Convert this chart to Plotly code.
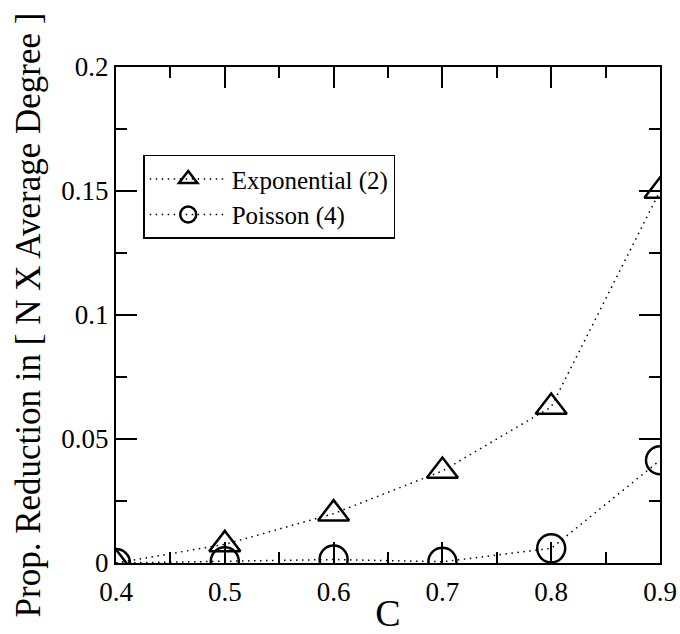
import plotly.graph_objects as go

c_values = [0.4, 0.5, 0.6, 0.7, 0.8, 0.9]
exponential = [0.0, 0.0075, 0.0199, 0.0371, 0.0629, 0.150]
poisson = [0.0, 0.0007, 0.0014, 0.0005, 0.0059, 0.0414]

x_ticks = [0.4, 0.5, 0.6, 0.7, 0.8, 0.9]
x_tick_labels = ["0.4", "0.5", "0.6", "0.7", "0.8", "0.9"]
y_ticks = [0, 0.05, 0.1, 0.15, 0.2]
y_tick_labels = ["0", "0.05", "0.1", "0.15", "0.2"]

FONT = "Liberation Serif"

fig = go.Figure()
fig.add_trace(go.Scatter(
    x=c_values, y=exponential, mode="lines+markers", name="Exponential (2)",
    line=dict(color="black", width=1.5, dash="1.5px,4.5px"),
    marker=dict(symbol="triangle-up-open", size=27, color="black",
                line=dict(width=2.5, color="black")),
))
fig.add_trace(go.Scatter(
    x=c_values, y=poisson, mode="lines+markers", name="Poisson (4)",
    line=dict(color="black", width=1.5, dash="1.5px,4.5px"),
    marker=dict(symbol="circle-open", size=28, color="black",
                line=dict(width=2.5, color="black")),
))

axis_common = dict(
    showline=True, linecolor="black", linewidth=2, mirror="allticks",
    ticks="inside", ticklen=21, tickwidth=1.5, tickcolor="black",
    showgrid=False, zeroline=False, automargin=False,
    tickfont=dict(family=FONT, size=27, color="black"),
)

fig.update_xaxes(
    range=[0.4, 0.9], tickvals=x_ticks, ticktext=x_tick_labels,
    minor=dict(dtick=0.05, ticks="inside", ticklen=11, tickwidth=1.5, tickcolor="black"),
    ticklabelstandoff=4,
    title=dict(text="C", font=dict(family=FONT, size=38, color="black"), standoff=20),
    **axis_common,
)
fig.update_yaxes(
    range=[0, 0.2], tickvals=y_ticks, ticktext=y_tick_labels,
    minor=dict(dtick=0.025, ticks="inside", ticklen=11, tickwidth=1.5, tickcolor="black"),
    title=dict(text="Prop. Reduction in [ N X Average Degree ]",
               font=dict(family=FONT, size=35, color="black"), standoff=10),
    **axis_common,
)

fig.update_layout(
    width=680, height=634,
    margin=dict(l=116, r=20, t=67, b=71),
    paper_bgcolor="white", plot_bgcolor="white",
    showlegend=True,
    legend=dict(
        x=0.05, y=0.823, xanchor="left", yanchor="top",
        bgcolor="white", bordercolor="black", borderwidth=1.5,
        font=dict(family=FONT, size=25, color="black"),
        itemwidth=77, tracegroupgap=0,
    ),
)

fig.write_html("out.html", config={"displayModeBar": False},
               post_script="document.body.style.margin='0';")
